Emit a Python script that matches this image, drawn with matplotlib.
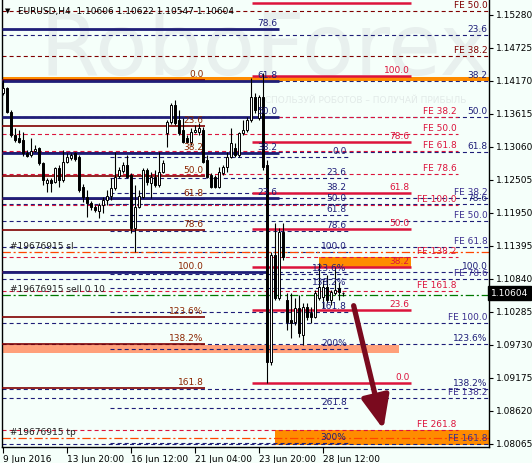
import matplotlib
matplotlib.use('Agg')
import matplotlib.pyplot as plt
from matplotlib.patches import Rectangle

plt.rcParams['font.family'] = 'DejaVu Sans'
plt.rcParams['lines.scale_dashes'] = False

# EURUSD H4 candles
opens = [1.1397, 1.1405, 1.1365, 1.1326, 1.1321, 1.1318, 1.1296, 1.1293, 1.1299, 1.1304,
         1.1279, 1.1245, 1.1251, 1.1247, 1.1271, 1.1251, 1.1281, 1.1288, 1.1296, 1.1289,
         1.1239, 1.1222, 1.1212, 1.1205, 1.1198, 1.1208, 1.1217, 1.1224, 1.1237, 1.1257,
         1.1266, 1.1276, 1.1259, 1.1170, 1.1205, 1.1222, 1.1267, 1.1245, 1.1256, 1.1242,
         1.1264, 1.1330, 1.1348, 1.1377, 1.1351, 1.1335, 1.1321, 1.1314, 1.1331, 1.1331,
         1.1335, 1.1284, 1.1259, 1.1256, 1.1239, 1.1262, 1.1272, 1.1289, 1.1304, 1.1293,
         1.1330, 1.1335, 1.1351, 1.1390, 1.1355, 1.1390, 1.1276, 1.0944, 1.1124, 1.1052,
         1.1163, 1.1049, 1.1015, 1.1012, 1.1035, 1.0990, 1.1037, 1.1027, 1.1020, 1.1052,
         1.1054, 1.1070, 1.1049, 1.1060, 1.1069, 1.10606]
highs = [1.1419, 1.1407, 1.1368, 1.1338, 1.1335, 1.1331, 1.1301, 1.1321, 1.1309, 1.1306,
         1.1281, 1.1254, 1.1254, 1.1272, 1.1276, 1.1301, 1.1296, 1.1296, 1.1298, 1.1293,
         1.1244, 1.1234, 1.1215, 1.1208, 1.1212, 1.1222, 1.1234, 1.1254, 1.1298, 1.1272,
         1.1281, 1.1293, 1.1262, 1.1242, 1.1234, 1.1271, 1.1271, 1.1264, 1.1267, 1.1298,
         1.1284, 1.1351, 1.1380, 1.1385, 1.1368, 1.1355, 1.1326, 1.1338, 1.1343, 1.1346,
         1.1340, 1.1293, 1.1262, 1.1259, 1.1272, 1.1276, 1.1298, 1.1338, 1.1313, 1.1331,
         1.1351, 1.1356, 1.1422, 1.1397, 1.1393, 1.1430, 1.1284, 1.1129, 1.1178, 1.1170,
         1.1178, 1.1061, 1.1061, 1.1052, 1.1057, 1.1044, 1.1044, 1.1037, 1.1066, 1.1111,
         1.1082, 1.1090, 1.1066, 1.1104, 1.1079, 1.10622]
lows = [1.1393, 1.1363, 1.1323, 1.1314, 1.1313, 1.1291, 1.1289, 1.1289, 1.1298, 1.1276,
        1.1242, 1.1230, 1.1230, 1.1245, 1.1239, 1.1247, 1.1279, 1.1284, 1.1282, 1.1230,
        1.1214, 1.1188, 1.1200, 1.1197, 1.1187, 1.1195, 1.1208, 1.1217, 1.1234, 1.1254,
        1.1262, 1.1254, 1.1161, 1.1129, 1.1203, 1.1220, 1.1242, 1.1220, 1.1239, 1.1239,
        1.1262, 1.1306, 1.1345, 1.1343, 1.1326, 1.1313, 1.1313, 1.1309, 1.1329, 1.1326,
        1.1279, 1.1254, 1.1237, 1.1237, 1.1237, 1.1259, 1.1264, 1.1288, 1.1289, 1.1289,
        1.1326, 1.1331, 1.1348, 1.1363, 1.1351, 1.1267, 1.0909, 1.0939, 1.1049, 1.1049,
        1.1116, 1.0998, 1.0985, 1.1007, 1.0987, 1.0973, 1.1015, 1.1010, 1.1018, 1.1049,
        1.1035, 1.1044, 1.1040, 1.1057, 1.1049, 1.10547]
closes = [1.1405, 1.1365, 1.1326, 1.1318, 1.1314, 1.1296, 1.1291, 1.1299, 1.1303, 1.1279,
          1.1251, 1.1251, 1.1245, 1.1271, 1.1251, 1.1281, 1.1289, 1.1293, 1.1286, 1.1234,
          1.1222, 1.1212, 1.1205, 1.1200, 1.1208, 1.1217, 1.1224, 1.1237, 1.1256, 1.1267,
          1.1276, 1.1256, 1.1170, 1.1205, 1.1224, 1.1267, 1.1247, 1.1256, 1.1242, 1.1264,
          1.1279, 1.1348, 1.1377, 1.1346, 1.1330, 1.1314, 1.1314, 1.1331, 1.1335, 1.1338,
          1.1281, 1.1256, 1.1239, 1.1239, 1.1264, 1.1272, 1.1289, 1.1313, 1.1293, 1.1330,
          1.1335, 1.1351, 1.1390, 1.1368, 1.1390, 1.1272, 1.0944, 1.1124, 1.1052, 1.1163,
          1.1121, 1.1012, 1.1010, 1.1035, 1.0993, 1.1037, 1.1020, 1.1020, 1.1060, 1.1070,
          1.1070, 1.1049, 1.1062, 1.1066, 1.1062, 1.10604]

date_ticks = [0, 16, 32, 48, 64, 80]
date_labels = ['9 Jun 2016', '13 Jun 20:00', '16 Jun 12:00', '21 Jun 04:00', '23 Jun 20:00', '28 Jun 12:00']
price_ticks = [1.15280, 1.14725, 1.14170, 1.13615, 1.13060, 1.12505, 1.11950,
               1.11395, 1.10840, 1.10285, 1.09730, 1.09175, 1.08620, 1.08065]
last_price = 1.10604
title = 'EURUSD,H4  1.10606 1.10622 1.10547 1.10604'

# fibo tools
navy_fibo = [1.15044, 1.14170, 1.13564, 1.12959, 1.12202, 1.10957]
navy_fibo_labels = ['78.6', '61.8', '50.0', '38.2', '23.6', '']
maroon_fibo = [1.14187, 1.13413, 1.12959, 1.12572, 1.12185, 1.11664, 1.10957, 1.10201, 1.09746, 1.09006]
maroon_fibo_labels = ['0.0', '23.6', '38.2', '50.0', '61.8', '78.6', '100.0', '123.6%', '138.2%', '161.8']
crimson_fibo = [1.15482, 1.14254, 1.13144, 1.12286, 1.11681, 1.11042, 1.10319, 1.09091]
crimson_fibo_labels = ['', '100.0', '78.6', '61.8', '50.0', '38.2', '23.6', '0.0']
right_fibo = [1.14943, 1.14170, 1.13564, 1.12976, 1.12101, 1.10957, 1.09746, 1.08989]
right_fibo_labels = ['23.6', '38.2', '50.0', '61.8', '78.6', '100.0', '123.6%', '138.2%']
mid_fibo = [1.12891, 1.12538, 1.12286, 1.12101, 1.11916, 1.11647, 1.11294, 1.10924,
            1.10688, 1.10285, 1.09663, 1.08670, 1.08082]
mid_fibo_labels = ['0.0', '23.6', '38.2', '50.0', '61.8', '78.6', '100.0', '123.6%',
                   '138.2%', '161.8', '200%', '261.8', '300%']
fe_navy = [1.12202, 1.11815, 1.11378, 1.10840, 1.10100, 1.08839, 1.08065]
fe_navy_labels = ['FE 38.2', 'FE 50.0', 'FE 61.8', 'FE 78.6', 'FE 100.0', 'FE 138.2', 'FE 161.8']
fe_red = [1.13564, 1.13278, 1.12993, 1.12606, 1.12084, 1.11210, 1.10638, 1.08300]
fe_red_labels = ['FE 38.2', 'FE 50.0', 'FE 61.8', 'FE 78.6', 'FE 100.0', 'FE 138.2', 'FE 161.8', 'FE 261.8']
fe_maroon = [1.15347, 1.14590]
fe_maroon_labels = ['FE 50.0', 'FE 38.2']

# orders
sl_price = 1.11294
sell_price = 1.10571
tp_price = 1.08166

NAVY = '#1E1E78'
MAROON = '#800000'
CRIMSON = '#DC143C'
BG = '#F5FFFA'
FS = 6.5

fig = plt.figure(figsize=(5.32, 4.63), dpi=100, facecolor=BG)
ax = fig.add_axes([2 / 532, 16 / 463, 487 / 532, 447 / 463], facecolor=BG)
x0, x1 = -0.25, 121.5
ax.set_xlim(x0, x1)
ax.set_ylim(1.08014, 1.15532)

# watermark
ax.text(0.54, 0.885, 'RoboForex', transform=ax.transAxes, fontsize=62, color='#E8F0EE',
        ha='center', va='center', zorder=0)
ax.text(0.74, 0.775, 'ИСПОЛЬЗУЙ РОБОТОВ – ПОЛУЧАЙ ПРИБЫЛЬ', transform=ax.transAxes,
        fontsize=6.5, color='#E2EAE8', ha='center', va='center', zorder=0)

# rectangles
ax.add_patch(Rectangle((x0, 1.14170), x1 - x0, 0.00067, color='#FF8C00', lw=0, zorder=1))
ax.add_patch(Rectangle((79, 1.11025), 23, 0.00185, color='#FF8C00', lw=0, zorder=1))
ax.add_patch(Rectangle((68, 1.08048), x1 - 68, 0.00252, color='#FF8C00', lw=0, zorder=1))
ax.add_patch(Rectangle((x0, 1.09595), 99 - x0, 0.00135, color='#FFA07A', lw=0, zorder=1))

dash = (0, (2.9, 2.2))
dashdot = (0, (6, 2, 1.5, 2))


def level_set(prices, labels, xa, xb, lcolor, tcolor, ls, lw, z):
    ax.hlines(prices, xa, xb, colors=lcolor, linestyles=ls, lw=lw, zorder=z)
    for p, t in zip(prices, labels):
        if t:
            ax.annotate(t, xy=(xb, p), xytext=(-1, 0.6), textcoords='offset points',
                        ha='right', va='bottom', fontsize=FS, color=tcolor, zorder=6)


# dashed levels
level_set(right_fibo, right_fibo_labels, x0, x1, NAVY, NAVY, dash, 0.8, 2)
level_set(fe_navy, fe_navy_labels, x0, x1, NAVY, '#3B2F8F', dash, 0.8, 2)
level_set(mid_fibo, mid_fibo_labels, 26.75, 86.25, NAVY, NAVY, dash, 0.8, 2)
level_set(fe_red, fe_red_labels, x0, 113.75, CRIMSON, CRIMSON, dash, 0.8, 2)
level_set(fe_maroon, fe_maroon_labels, x0, x1, MAROON, MAROON, dash, 0.8, 2)

# order lines
ax.hlines(sl_price, x0, x1, colors='#FF4500', linestyles=dashdot, lw=0.9, zorder=2)
ax.hlines(tp_price, x0, x1, colors='#FF4500', linestyles=dashdot, lw=0.9, zorder=2)
ax.hlines(sell_price, x0, x1, colors='#007800', linestyles=dashdot, lw=0.9, zorder=2)
for p, t in [(sl_price, '#19676915 sl'), (sell_price, '#19676915 sell 0.10'), (tp_price, '#19676915 tp')]:
    ax.annotate(t, xy=(1.75, p), xytext=(0, 0.8), textcoords='offset points',
                ha='left', va='bottom', fontsize=FS, color='#202020', zorder=6)

# solid fibo levels
level_set(maroon_fibo, maroon_fibo_labels, x0, 50.5, MAROON, '#8B2500', '-', 1.2, 3)
level_set(navy_fibo[:-1], navy_fibo_labels[:-1], x0, 69, NAVY, NAVY, '-', 2.0, 3)
ax.hlines(navy_fibo[-1], x0, 65.75, colors=NAVY, lw=2.0, zorder=3)
level_set(crimson_fibo, crimson_fibo_labels, 62.25, 102, CRIMSON, CRIMSON, '-', 1.8, 3)

# candles
for i in range(len(opens)):
    o, h, l, c = opens[i], highs[i], lows[i], closes[i]
    ax.vlines(i, l, h, colors='black', lw=0.8, zorder=4)
    body = max(abs(c - o), 0.00003)
    ax.bar(i, body, bottom=min(o, c), width=0.72, color='white' if c >= o else 'black',
           edgecolor='black', lw=0.7, zorder=5)

# arrow
ax.annotate('', xy=(95.25, 1.08267), xytext=(87.5, 1.10436),
            arrowprops=dict(arrowstyle='-|>,head_length=2.0,head_width=0.85',
                            color='#7A0A1E', lw=3.8), zorder=7)

# axes
ax.yaxis.tick_right()
ax.set_yticks(price_ticks)
ax.set_yticklabels([f'{p:.5f}' for p in price_ticks])
ax.set_xticks(date_ticks)
ax.set_xticklabels(date_labels, ha='left')
ax.tick_params(axis='y', length=3, pad=2, labelsize=FS, colors='black')
ax.tick_params(axis='x', length=4, pad=1.5, labelsize=FS, colors='black')
ax.spines['top'].set_visible(False)
for s in ['left', 'right', 'bottom']:
    ax.spines[s].set_linewidth(1.0)
    ax.spines[s].set_color('black')

ax.annotate(f'{last_price:.5f}', xy=(1, last_price), xycoords=('axes fraction', 'data'),
            xytext=(1.5, 0), textcoords='offset points', ha='left', va='center',
            color='white', fontsize=FS, annotation_clip=False,
            bbox=dict(boxstyle='square,pad=0.3', fc='black', ec='black'))

ax.text(0.012, 0.975, '▼', transform=ax.transAxes, fontsize=5, ha='center', va='center', zorder=6)
ax.text(0.033, 0.975, title, transform=ax.transAxes, fontsize=FS, ha='left', va='center', zorder=6)

fig.savefig('out.png', dpi=100, facecolor=BG)
